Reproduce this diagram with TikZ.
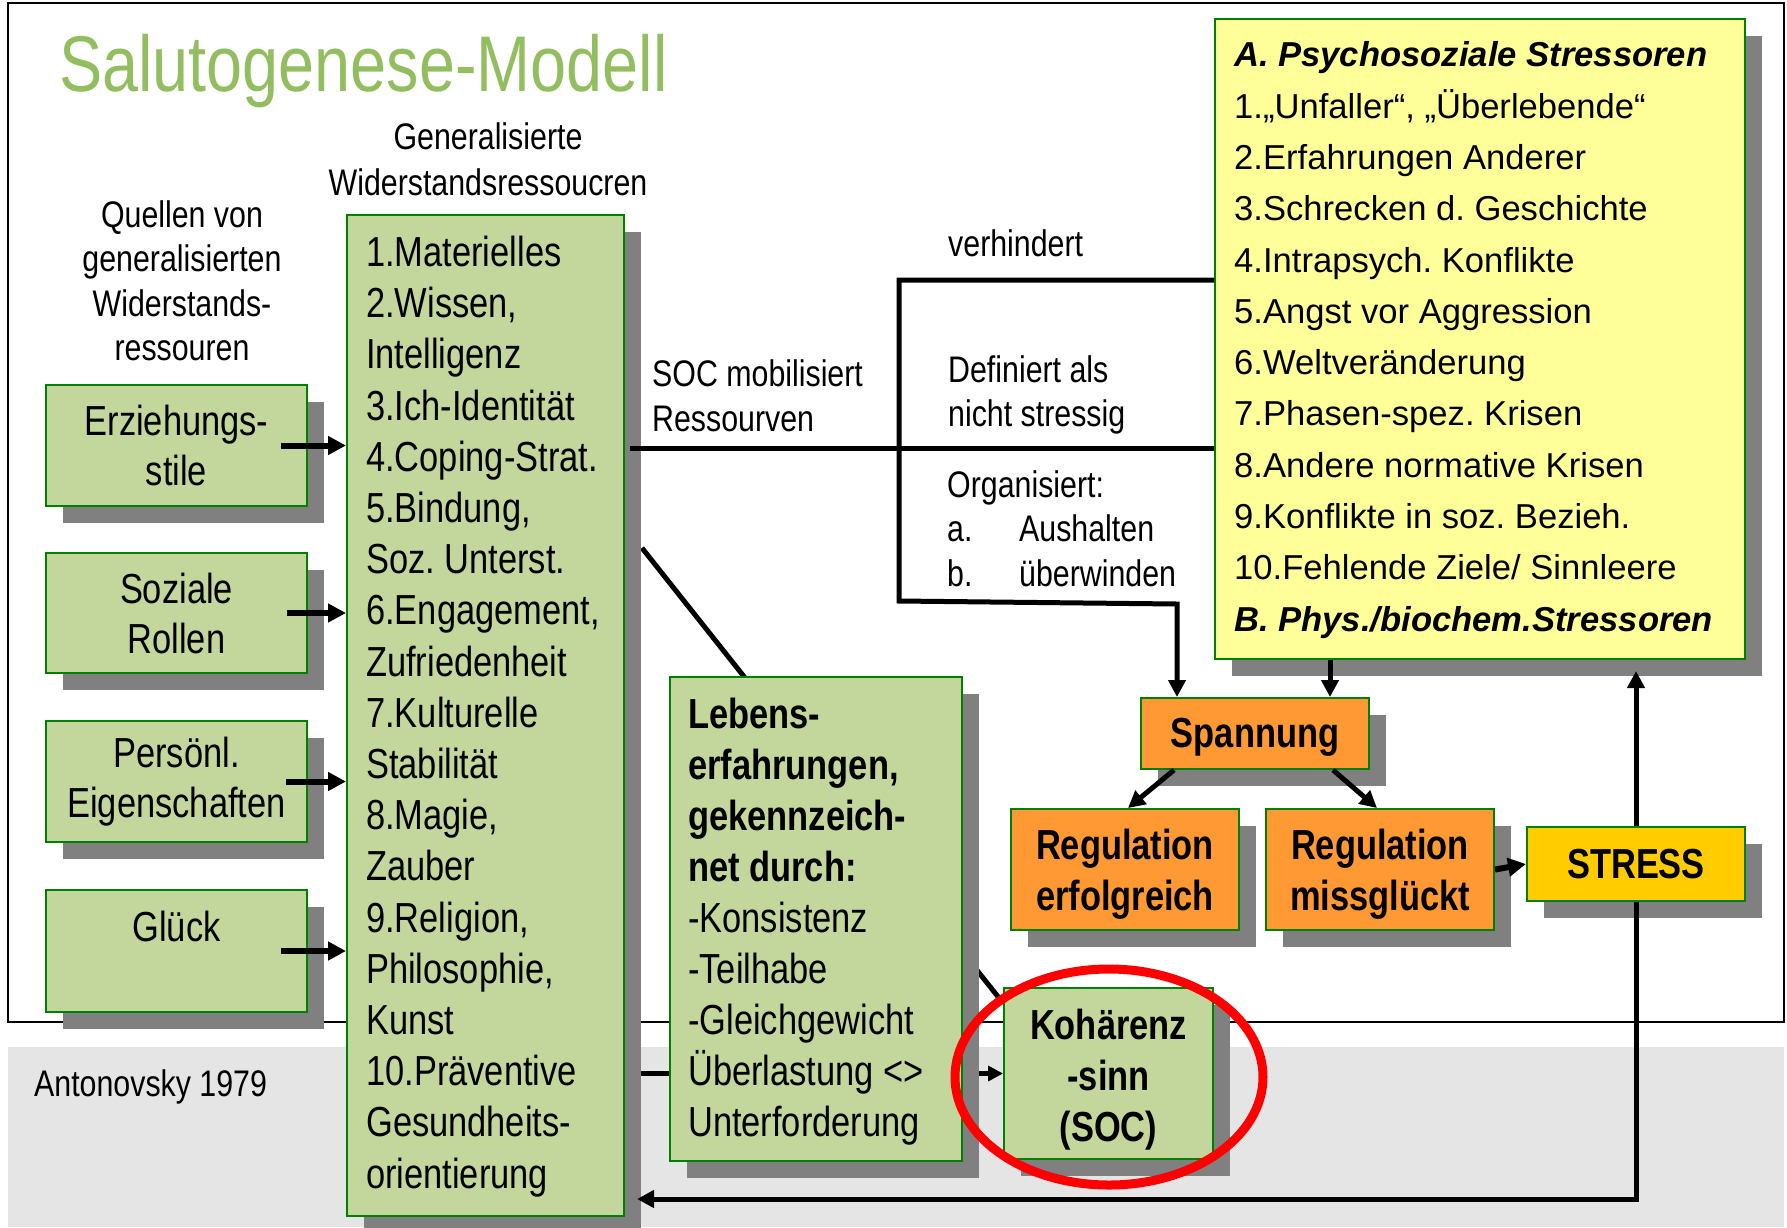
\documentclass[tikz,border=0pt]{standalone}
\usepackage{fontspec}
\setmainfont{Liberation Sans}
\newfontfamily\nar[FakeStretch=0.82]{Liberation Sans}
\usetikzlibrary{arrows.meta,shadows}
\pgfdeclarelayer{bottom}
\pgfdeclarelayer{behind}
\pgfsetlayers{bottom,behind,main}
\frenchspacing
\definecolor{boxgreen}{RGB}{195,214,155}
\definecolor{edgegreen}{RGB}{0,128,0}
\definecolor{shadowgray}{RGB}{128,128,128}
\definecolor{orangebox}{RGB}{255,153,51}
\definecolor{yellowbox}{RGB}{255,255,153}
\definecolor{stressyellow}{RGB}{255,204,0}
\definecolor{titlegreen}{RGB}{146,190,96}
\definecolor{bandgray}{RGB}{229,229,229}
\begin{document}
\begin{tikzpicture}[x=1pt,y=-1pt,
  gbox/.style={draw=edgegreen,line width=2pt,inner sep=0pt,anchor=north west,
    general shadow={fill=shadowgray,shadow xshift=17pt,shadow yshift=-17pt}},
  nar42/.style={font=\nar\fontsize{42}{50}\selectfont},
  narb42/.style={inner sep=0pt,align=center,font=\nar\bfseries\fontsize{42}{51}\selectfont},
  lbl/.style={inner sep=0pt,font=\nar\fontsize{37}{44.5}\selectfont},
  conn/.style={line width=5pt},
  conna/.style={line width=5pt,-{Triangle[length=17pt,width=17pt]}},
  connb/.style={line width=6pt,-{Triangle[length=18pt,width=18pt]}}]
\useasboundingbox (0,0) rectangle (1787,1227);

% background band and frame
\begin{pgfonlayer}{bottom}
  \fill[bandgray] (8,1047) rectangle (1784,1227);
  \draw[line width=1.5pt] (8,3) rectangle (1784,1022);
\end{pgfonlayer}

% title and labels
\node[anchor=base west,inner sep=0pt,text=titlegreen,font=\nar\fontsize{79}{90}\selectfont] (title) at (59,91) {Salutogenese-Modell};
\node[lbl,align=center,font=\nar\fontsize{37}{45.5}\selectfont] (gwr) at (488,159.5) {Generalisierte\\Widerstandsressoucren};
\node[lbl,align=center] (quellen) at (182,281) {Quellen von\\generalisierten\\Widerstands-\\ressouren};
\node[lbl,anchor=west,align=left] (socmob) at (652,396) {SOC mobilisiert\\Ressourven};
\node[lbl,anchor=west] (verh) at (948,243) {verhindert};
\node[lbl,anchor=west,align=left] (defin) at (948,395) {Definiert als\\nicht stressig};
\node[lbl,anchor=west,align=left] (organ) at (947,528.5) {Organisiert:\\\makebox[72pt][l]{a.}Aushalten\\\makebox[72pt][l]{b.}überwinden};
\node[lbl,anchor=west] (anton) at (34,1087) {Antonovsky 1979};

% boxes
\node[gbox,fill=boxgreen,minimum width=277pt,minimum height=1001pt] (res) at (346,214) {};
\node[gbox,fill=boxgreen,minimum width=261pt,minimum height=121pt,align=center,nar42] (erz) at (45,384) {Erziehungs-\\stile};
\node[gbox,fill=boxgreen,minimum width=261pt,minimum height=120pt,align=center,nar42] (soz) at (45,552) {Soziale\\Rollen};
\node[gbox,fill=boxgreen,minimum width=261pt,minimum height=121pt,align=center,nar42] (pers) at (45,720) {Persönl.\\Eigenschaften};
\node[gbox,fill=boxgreen,minimum width=261pt,minimum height=122pt,align=center,nar42] (glueck) at (45,889) {Glück\\\mbox{}};
\node[gbox,fill=boxgreen,minimum width=292pt,minimum height=484pt] (leb) at (669,676) {};
\node[gbox,fill=boxgreen,minimum width=209pt,minimum height=171pt] (koh) at (1003,987) {};
\node[gbox,fill=yellowbox,minimum width=530pt,minimum height=640pt] (yel) at (1214,18) {};
\node[gbox,fill=orangebox,minimum width=228pt,minimum height=71pt] (span) at (1140,697) {};
\node[gbox,fill=orangebox,minimum width=228pt,minimum height=121pt] (rege) at (1010,808) {};
\node[gbox,fill=orangebox,minimum width=228pt,minimum height=121pt] (regm) at (1265,808) {};
\node[gbox,fill=stressyellow,minimum width=218pt,minimum height=74pt] (stress) at (1526,826) {};

% box texts
\node[narb42] (kohtext) at ([yshift=-6pt]koh.center) {Kohärenz\\-sinn\\(SOC)};
\node[narb42] (spantext) at ([yshift=-4pt]span.center) {Spannung};
\node[narb42] (regetext) at ([yshift=-5pt]rege.center) {Regulation\\erfolgreich};
\node[narb42] (regmtext) at ([yshift=-5pt]regm.center) {Regulation\\missglückt};
\node[narb42] (stresstext) at (stress.center) {STRESS};
\node[anchor=west,inner sep=0pt,align=left,font=\nar\fontsize{42}{51.2}\selectfont] (restext) at ([xshift=20pt,yshift=-1pt]res.west)
 {1.Materielles\\2.Wissen,\\Intelligenz\\3.Ich-Identität\\4.Coping-Strat.\\5.Bindung,\\Soz. Unterst.\\6.Engagement,\\Zufriedenheit\\7.Kulturelle\\Stabilität\\8.Magie,\\Zauber\\9.Religion,\\Philosophie,\\Kunst\\10.Präventive\\Gesundheits-\\orientierung};
\node[anchor=west,inner sep=0pt,align=left,font=\nar\fontsize{42}{51}\selectfont] (lebtext) at ([xshift=19pt,yshift=-3pt]leb.west)
 {\textbf{Lebens-}\\\textbf{erfahrungen,}\\\textbf{gekennzeich-}\\\textbf{net durch:}\\-Konsistenz\\-Teilhabe\\-Gleichgewicht\\Überlastung <>\\Unterforderung};
\node[anchor=west,inner sep=0pt,align=left,font=\fontsize{34.6}{51.3}\selectfont] (yeltext) at ([xshift=20pt,yshift=-1pt]yel.west)
 {\textbf{\textit{A. Psychosoziale Stressoren}}\\1.„Unfaller“, „Überlebende“\\2.Erfahrungen Anderer\\3.Schrecken d. Geschichte\\4.Intrapsych. Konflikte\\5.Angst vor Aggression\\6.Weltveränderung\\7.Phasen-spez. Krisen\\8.Andere normative Krisen\\9.Konflikte in soz. Bezieh.\\10.Fehlende Ziele/ Sinnleere\\\textbf{\textit{B. Phys./biochem.Stressoren}}};

% junction coordinates
\coordinate (vtop) at (899,280);
\coordinate (vbot) at (899,601);
\coordinate (vturn) at (1177,604);
\coordinate (mob) at (899,448);
\coordinate (ys) at (1330,0);
\coordinate (sup) at (1639,671);
\coordinate (bl) at (1639,1199);
\coordinate (dstart) at (642,548);

% connectors hidden behind boxes
\begin{pgfonlayer}{behind}
  \draw[conn] (dstart) -- ([yshift=-16pt]koh.north west);
  \draw[line width=5pt,-{Triangle[length=15pt,width=15pt]}] (res.east |- koh.west) -- (koh.west);
\end{pgfonlayer}

% connectors
\draw[connb] ([xshift=-27pt]erz.east) -- (res.west |- erz.east);
\draw[connb] ([xshift=-21pt]soz.east) -- (res.west |- soz.east);
\draw[connb] ([xshift=-22pt]pers.east) -- (res.west |- pers.east);
\draw[connb] ([xshift=-27pt]glueck.east) -- (res.west |- glueck.east);
\draw[conn] ([xshift=5pt]res.east |- mob) -- (yel.west |- mob);
\draw[conna] (yel.west |- vtop) -- (vtop) -- (vbot) -- (vturn) -- (vturn |- span.north);
\draw[conna] (yel.south -| ys) -- (span.north -| ys);
\draw[conna] ([xshift=34pt]span.south west) -- ([xshift=118pt]rege.north west);
\draw[conna] ([xshift=-37pt]span.south east) -- ([xshift=112pt]regm.north west);
\draw[connb] (regm.east) -- (stress.west);
\draw[conna] (stress.north) -- (stress.north |- sup);
\draw[conna] (stress.south) -- (stress.south |- bl) -- ([xshift=12pt]res.east |- bl);

% highlight
\draw[red,line width=9pt] (1109,1077) ellipse [x radius=154pt,y radius=108pt];
\end{tikzpicture}
\end{document}
